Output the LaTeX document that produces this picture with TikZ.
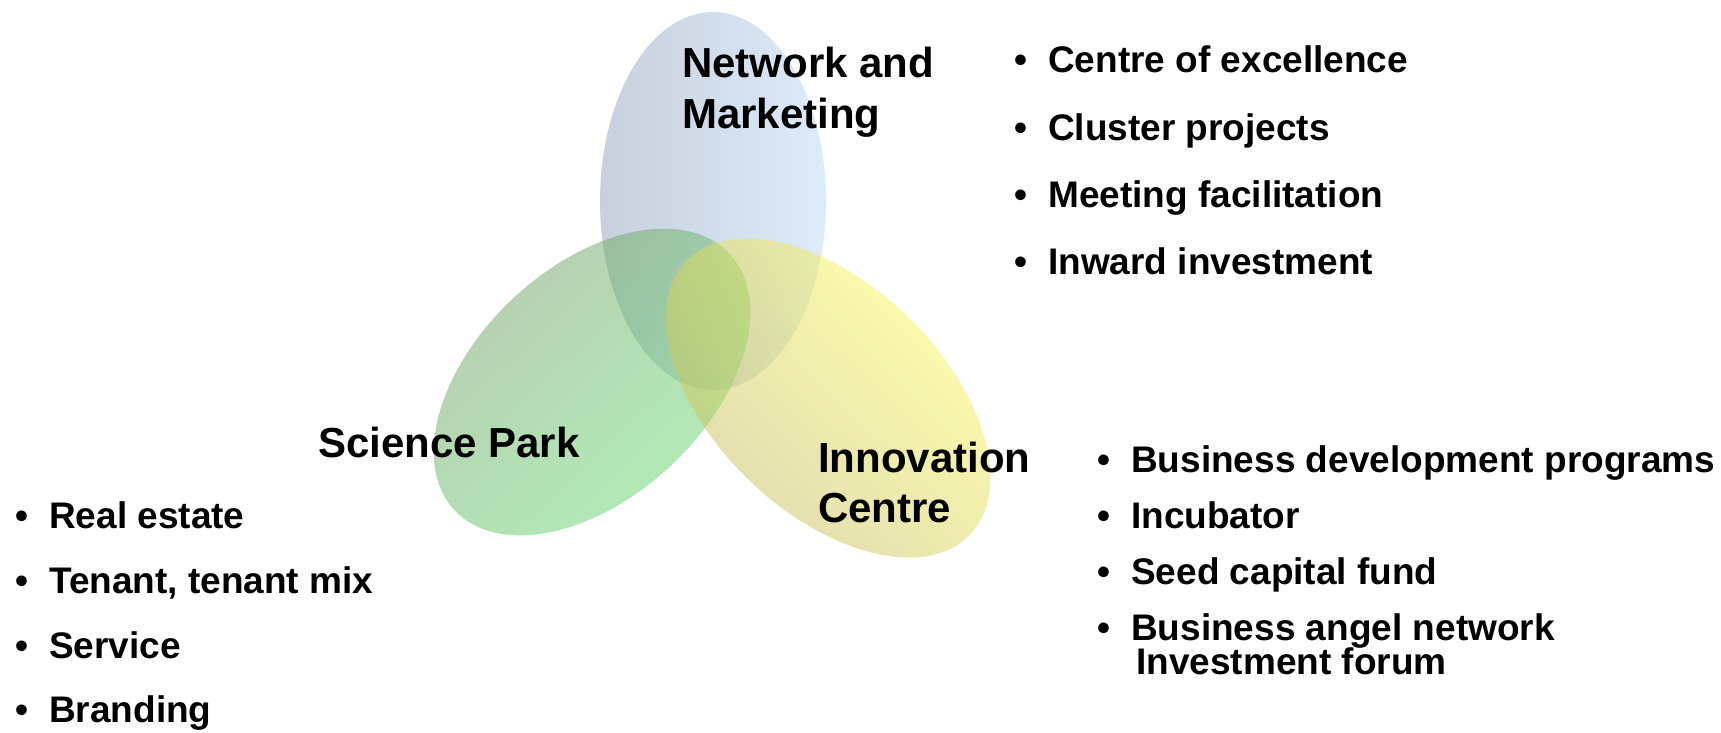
\documentclass[tikz,border=0pt]{standalone}
\usepackage{fontspec}
\setmainfont{Liberation Sans}
\definecolor{bluegray}{RGB}{145,161,185}
\definecolor{bluelight}{RGB}{187,215,245}
\definecolor{greengray}{RGB}{113,153,97}
\definecolor{greenlight}{RGB}{97,225,113}
\definecolor{yellowgray}{RGB}{191,181,97}
\definecolor{yellowlight}{RGB}{255,255,85}
\begin{document}
\begin{tikzpicture}[x=1pt,y=-1pt,
  head/.style={anchor=base west,inner sep=0pt,font=\fontsize{42}{50}\selectfont\bfseries},
  item/.style={anchor=base west,inner sep=0pt,font=\fontsize{37}{44}\selectfont\bfseries},
  blob/.style={fill opacity=0.5}]
\useasboundingbox (0,0) rectangle (1721,733);
% ellipses
\shade[blob,top color=bluegray,bottom color=bluelight,shading angle=90]
  (713,201) ellipse [x radius=113,y radius=189];
\shade[blob,top color=greengray,bottom color=greenlight,shading angle=43,rotate around={43:(592,382)}]
  (592,382) ellipse [x radius=188,y radius=115];
\shade[blob,top color=yellowgray,bottom color=yellowlight,shading angle=136,rotate around={-44:(828,398)}]
  (828,398) ellipse [x radius=197,y radius=114];
% headings
\node[head] (nm1) at (682,78) {Network and};
\node[head] (nm2) at (682,129) {Marketing};
\node[head] (sp) at (318,457) {Science Park};
\node[head] (ic1) at (818,472) {Innovation};
\node[head] (ic2) at (818,522) {Centre};
% top right list
\newcommand{\bul}{\llap{•\hspace{21pt}}}
\node[item] (t1) at (1048,73) {\bul Centre of excellence};
\node[item] (t2) at (1048,140) {\bul Cluster projects};
\node[item] (t3) at (1048,207) {\bul Meeting facilitation};
\node[item] (t4) at (1048,274) {\bul Inward investment};
% left list
\node[item] (l1) at (49,528) {\bul Real estate};
\node[item] (l2) at (49,593) {\bul Tenant, tenant mix};
\node[item] (l3) at (49,658) {\bul Service};
\node[item] (l4) at (49,722) {\bul Branding};
% bottom right list
\node[item] (r1) at (1131,472) {\bul Business development programs};
\node[item] (r2) at (1131,528) {\bul Incubator};
\node[item] (r3) at (1131,584) {\bul Seed capital fund};
\node[item] (r4) at (1131,640) {\bul Business angel network};
\node[item] (r5) at (1136,674) {Investment forum};
\end{tikzpicture}
\end{document}
